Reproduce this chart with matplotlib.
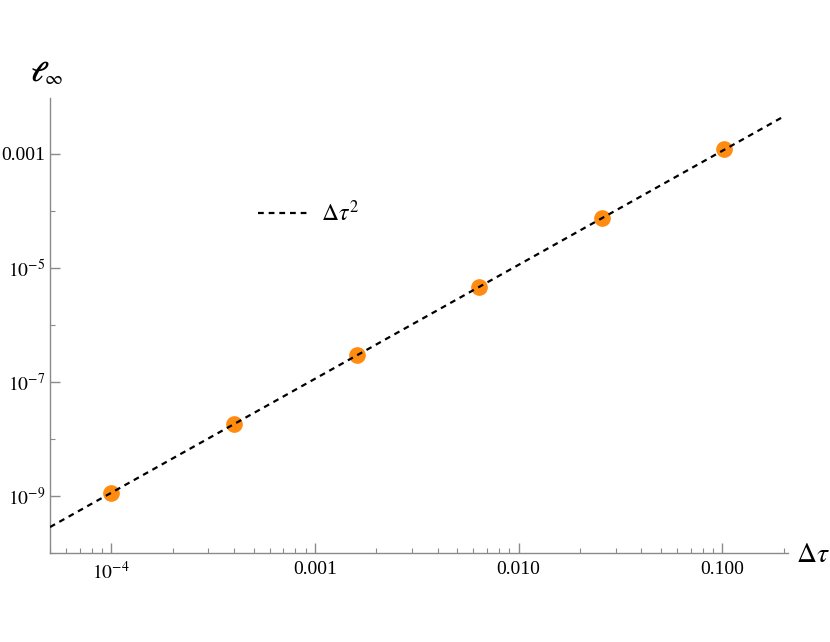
import matplotlib
matplotlib.use("Agg")
import matplotlib.pyplot as plt
from matplotlib.ticker import FixedLocator, FixedFormatter

# data
dt = [1.0e-4, 4.0e-4, 1.6e-3, 6.4e-3, 2.56e-2, 1.024e-1]
linf = [1.13e-9, 1.83e-8, 2.98e-7, 4.64e-6, 7.5e-5, 1.22e-3]

# reference slope line (Δτ^2), end points
ref_x = [5.0e-5, 0.2]
ref_y = [2.85e-10, 4.55e-3]

xticks = [1e-4, 1e-3, 1e-2, 1e-1]
xticklabels = [r"$10^{-4}$", "0.001", "0.010", "0.100"]
yticks = [1e-9, 1e-7, 1e-5, 1e-3]
yticklabels = [r"$10^{-9}$", r"$10^{-7}$", r"$10^{-5}$", "0.001"]
yminor = [1e-10, 1e-8, 1e-6, 1e-4, 1e-2]

plt.rcParams['font.family'] = ['Liberation Serif', 'DejaVu Serif']
plt.rcParams['mathtext.fontset'] = 'stix'

gray = '#8a8a8a'
fig = plt.figure(figsize=(8.3, 6.42), dpi=100)
ax = fig.add_axes([50/830, 1 - 553/642, 738/830, 455/642])

ax.plot(dt, linf, 'o', color='#ff8c10', markersize=11, zorder=2)
ax.plot(ref_x, ref_y, color='black', lw=1.6, dashes=(2.6, 2.2), zorder=3,
        label=r"$\Delta\tau^2$")

ax.set_xscale('log')
ax.set_yscale('log')
ax.set_xlim(5.0e-5, 0.21)
ax.set_ylim(1e-10, 9.6e-3)

ax.xaxis.set_major_locator(FixedLocator(xticks))
ax.xaxis.set_major_formatter(FixedFormatter(xticklabels))
ax.yaxis.set_major_locator(FixedLocator(yticks))
ax.yaxis.set_major_formatter(FixedFormatter(yticklabels))
ax.yaxis.set_minor_locator(FixedLocator(yminor))
ax.yaxis.set_minor_formatter(FixedFormatter([""] * len(yminor)))

for s in ['top', 'right']:
    ax.spines[s].set_visible(False)
for s in ['left', 'bottom']:
    ax.spines[s].set_color(gray)
    ax.spines[s].set_linewidth(1.0)

ax.tick_params(which='major', direction='in', length=7, width=1.0, color=gray,
               labelsize=14)
ax.tick_params(axis='x', which='major', pad=6)
ax.tick_params(axis='y', which='major', pad=3.5)
ax.tick_params(which='minor', direction='in', length=3.5, width=0.8, color=gray)

ax.legend(loc='center left', bbox_to_anchor=(258/830, 1 - 213/642),
          bbox_transform=fig.transFigure, frameon=False, fontsize=17,
          borderpad=0, borderaxespad=0, handlelength=2.2, handletextpad=0.45)

fig.text(46/830, 1 - 74/642, r"$\boldsymbol{\ell}_{\infty}$", fontsize=20,
         ha='center', va='center')
fig.text(813/830, 1 - 556/642, r"$\Delta\tau$", fontsize=20,
         ha='center', va='center')

fig.savefig("out.png", dpi=100)
